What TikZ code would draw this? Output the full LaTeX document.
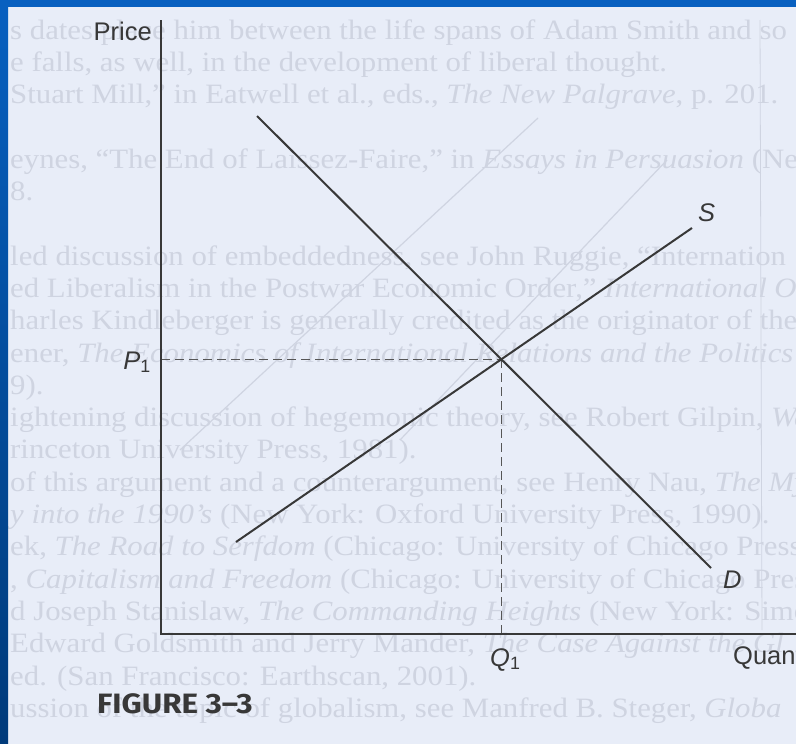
\documentclass[tikz,border=0pt]{standalone}
\usepackage{fontspec}
\setmainfont{Liberation Sans}
\newfontfamily\ghostfont[Ligatures=TeX, FakeStretch=1.1]{Liberation Serif}
\newfontfamily\capfont[Ligatures=TeX, FakeStretch=1.12]{Fira Sans}
\usepackage{xcolor}
\usepackage{tikz}
\usetikzlibrary{positioning,calc}
\definecolor{slideblue}{RGB}{8,96,192}
\definecolor{slidedark}{RGB}{0,58,122}
\definecolor{paper}{RGB}{232,237,248}
\definecolor{ghost}{RGB}{207,212,225}
\definecolor{ink}{RGB}{56,56,56}

\begin{document}
\begin{tikzpicture}[x=1pt, y=-1pt,
  axis/.style={draw=ink, line width=1.3pt},
  curve/.style={draw=ink, line width=2pt},
  guide/.style={draw=ink!85, line width=1.2pt, dash pattern=on 9pt off 5pt},
  lbl/.style={font=\fontsize{25.5}{25.5}\selectfont, text=ink, inner sep=0pt},
  ghosttext/.style={anchor=base west, font=\ghostfont\fontsize{28}{28}\selectfont, text=ghost, inner sep=0pt},
  ghostline/.style={draw=ghost, line width=1.2pt}]
\useasboundingbox (0,0) rectangle (796,744);
\clip (0,0) rectangle (796,744);
\fill[paper] (0,0) rectangle (796,744);
\foreach \n/\t in {0/{s dates place him between the life spans of Adam Smith and so},
  1/{e falls, as well, in the development of liberal thought.},
  2/{ Stuart Mill,'' in Eatwell et al., eds., \textit{The New Palgrave}, p. 201.},
  4/{eynes, ``The End of Laissez-Faire,'' in \textit{Essays in Persuasion} (New Yo},
  5/{8.},
  7/{led discussion of embeddedness, see John Ruggie, ``Internation},
  8/{ed Liberalism in the Postwar Economic Order,'' \textit{International Orga}},
  9/{harles Kindleberger is generally credited as the originator of the h},
  10/{ener, \textit{The Economics of International Relations and the Politics of Inter}},
  11/{9).},
  12/{ightening discussion of hegemonic theory, see Robert Gilpin, \textit{War}},
  13/{rinceton University Press, 1981).},
  14/{of this argument and a counterargument, see Henry Nau, \textit{The My}},
  15/{\textit{y into the 1990's} (New York: Oxford University Press, 1990).},
  16/{ek, \textit{The Road to Serfdom} (Chicago: University of Chicago Press, 19},
  17/{, \textit{Capitalism and Freedom} (Chicago: University of Chicago Press, 1},
  18/{d Joseph Stanislaw, \textit{The Commanding Heights} (New York: Simon \&},
  19/{Edward Goldsmith and Jerry Mander, \textit{The Case Against the Gl}},
  20/{ed. (San Francisco: Earthscan, 2001).},
  21/{ussion of the topic of globalism, see Manfred B. Steger, \textit{Globa}}}
  \node[ghosttext] (ghost\n) at (10,{39+32.3*\n}) {\t};
\coordinate (ga1) at (180,450);
\coordinate (ga2) at (538,118);
\coordinate (gb1) at (400,440);
\coordinate (gb2) at (667,160);
\coordinate (gc1) at (760,20);
\coordinate (gc2) at (762,630);
\draw[ghostline] (ga1) -- (ga2);
\draw[ghostline] (gb1) -- (gb2);
\draw[ghostline, line width=0.8pt] (gc1) -- (gc2);
\shade[top color=slideblue, bottom color=slidedark] (0,0) rectangle (8,744);
\fill[slideblue] (0,0) rectangle (796,7);
\coordinate (O) at (161,634);
\coordinate (ytop) at (161,20);
\coordinate (xend) at (800,634);
\coordinate (d1) at (257,116);
\coordinate (d2) at (711,568);
\coordinate (s1) at (236,542);
\coordinate (s2) at (692,228);
\coordinate (eq) at (intersection of d1--d2 and s1--s2);
\coordinate (p1) at (O |- eq);
\coordinate (q1) at (eq |- O);
\draw[guide] (p1) -- (eq);
\draw[guide] (eq) -- (q1);
\draw[axis] (ytop) -- (O) -- (xend);
\draw[curve] (d1) -- (d2);
\draw[curve] (s1) -- (s2);
\node[lbl, anchor=base east] (price) at (152,40) {Price};
\node[lbl, anchor=base west] (quantity) at (733,664) {Quantity};
\node[lbl, left=10pt of p1, yshift=-3pt] (plabel) {\textit{P}\textsubscript{1}};
\node[lbl, below=14pt of q1, xshift=4pt] (qlabel) {\textit{Q}\textsubscript{1}};
\node[lbl, above right=6pt and 6pt of s2] (slabel) {\textit{S}};
\node[lbl, below right=3pt and 12pt of d2] (dlabel) {\textit{D}};
\node[anchor=base west, inner sep=0pt, text=ink, font=\capfont\bfseries\fontsize{28}{28}\selectfont] (caption) at (97,713) {FIGURE 3--3};
\end{tikzpicture}
\end{document}
